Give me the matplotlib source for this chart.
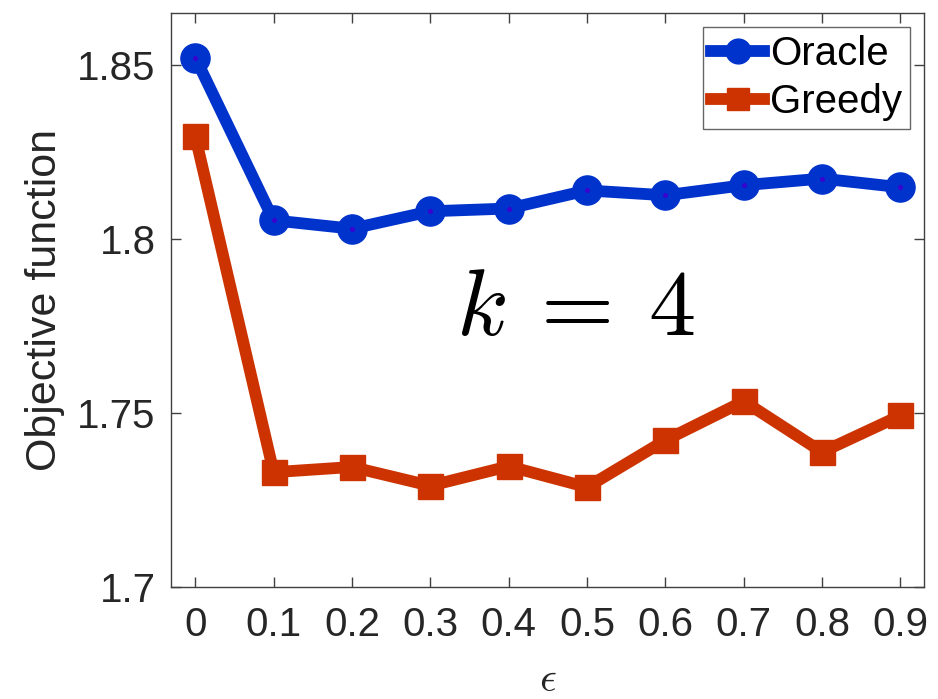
import matplotlib
matplotlib.use('Agg')
import matplotlib.pyplot as plt
import numpy as np

# data
eps = [0, 0.1, 0.2, 0.3, 0.4, 0.5, 0.6, 0.7, 0.8, 0.9]
oracle = [1.8522, 1.8054, 1.8030, 1.8080, 1.8088, 1.8140, 1.8126, 1.8155, 1.8174, 1.8149]
greedy = [1.8295, 1.7330, 1.7345, 1.7291, 1.7347, 1.7287, 1.7422, 1.7534, 1.7388, 1.7493]
xticks = [0, 0.1, 0.2, 0.3, 0.4, 0.5, 0.6, 0.7, 0.8, 0.9]
xticklabels = ['0', '0.1', '0.2', '0.3', '0.4', '0.5', '0.6', '0.7', '0.8', '0.9']
yticks = [1.7, 1.75, 1.8, 1.85]
yticklabels = ['1.7', '1.75', '1.8', '1.85']

plt.rcParams['font.family'] = ['Liberation Sans', 'DejaVu Sans']
plt.rcParams['mathtext.fontset'] = 'cm'

blue = '#0033cc'
red = '#cc3300'

fig = plt.figure(figsize=(9.38, 6.99), dpi=100)
ax = fig.add_axes([171/938, 1 - 587/699, (924-171)/938, (587-13)/699])

ax.plot(eps, oracle, color=blue, lw=8.5, marker='o', markersize=21,
        markerfacecolor=blue, markeredgecolor=blue, label='Oracle')
ax.plot(eps, oracle, ls='none', marker='.', markersize=5, color='#3a00d0')
ax.plot(eps, greedy, color=red, lw=8.5, marker='s', markersize=18,
        markerfacecolor=red, markeredgecolor=red, label='Greedy')

ax.set_xlim(-0.031, 0.93)
ax.set_ylim(1.7, 1.865)
ax.set_xticks(xticks)
ax.set_xticklabels(xticklabels)
ax.set_yticks(yticks)
ax.set_yticklabels(yticklabels)

ax.tick_params(direction='in', length=7, width=1, colors='#404040',
               labelcolor='#262626', labelsize=29, top=True, right=True)
ax.tick_params(axis='y', pad=11)
ax.tick_params(axis='x', pad=14)
for s in ax.spines.values():
    s.set_color('#404040')
    s.set_linewidth(1)

ax.set_ylabel('Objective function', fontsize=31, color='#262626', labelpad=9)
ax.set_xlabel(r'$\epsilon$', fontsize=30, color='#262626', labelpad=11)

ax.text(0.485, 1.7795, r'$k\:=\:4$', fontsize=68, ha='center', va='center')

leg = ax.legend(loc='upper right', fontsize=29, frameon=True, fancybox=False,
                edgecolor='#404040', handlelength=1.3, handletextpad=0.15,
                borderpad=0.2, labelspacing=0.25, borderaxespad=0.35,
                markerscale=0.85)
leg.get_frame().set_linewidth(1)

fig.savefig('out.png', dpi=100)
